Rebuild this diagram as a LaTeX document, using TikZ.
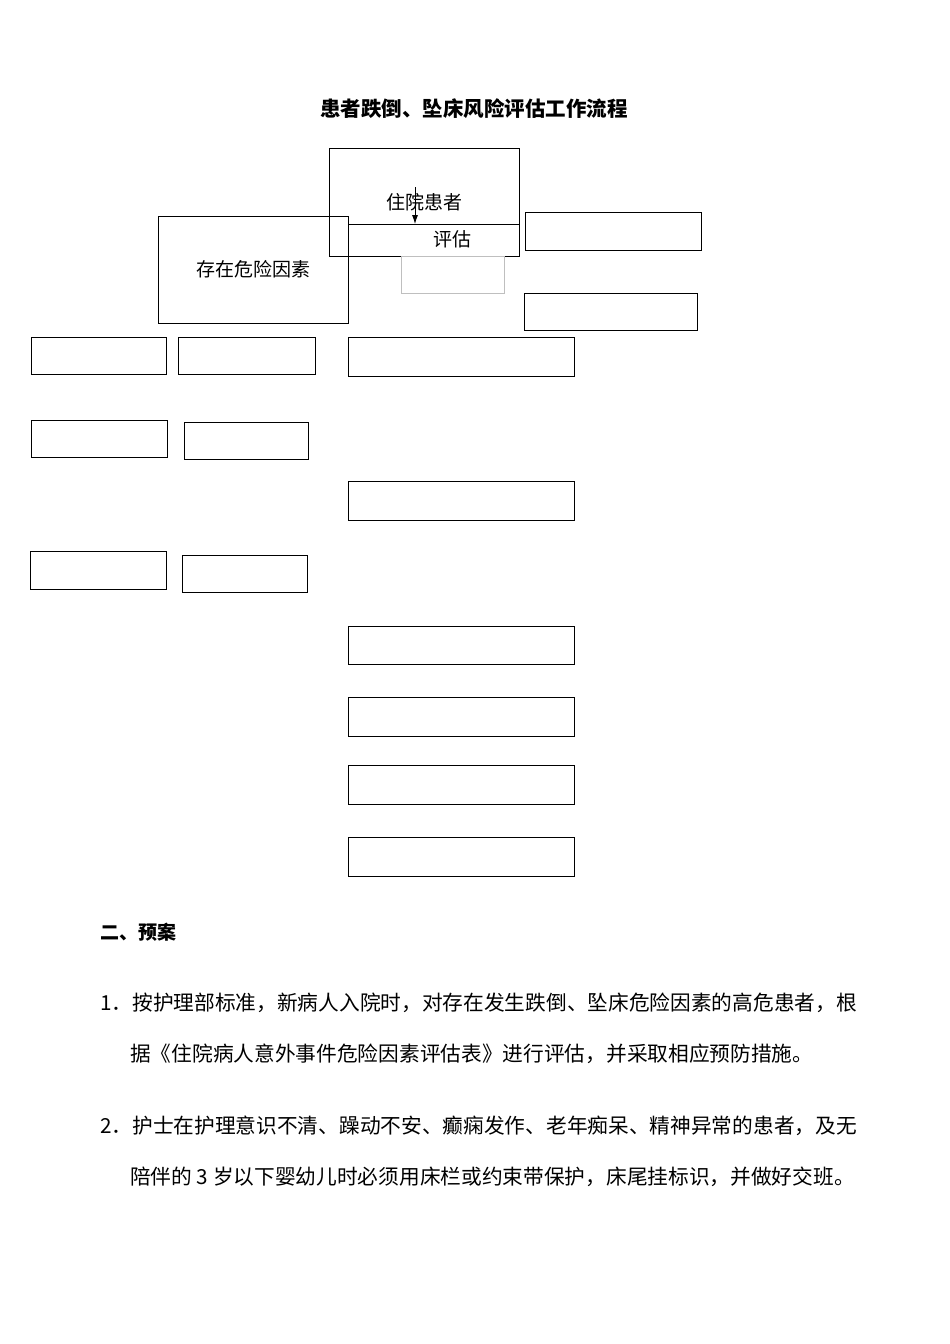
\documentclass[tikz,border=0pt]{standalone}
\usepackage{fontspec}
\usetikzlibrary{arrows.meta}
\newfontfamily\cjk{Noto Sans CJK SC}
\begin{document}
\begin{tikzpicture}[x=1pt,y=-1pt,
  bx/.style={draw,line width=0.9pt},
  txt/.style={font=\cjk\fontsize{20.7}{24}\selectfont,anchor=west,inner sep=0}]
\useasboundingbox[fill=white] (0,0) rectangle (950,1344);
\node[font=\cjk\bfseries\fontsize{20.5}{22}\selectfont] (title) at (474,109) {患者跌倒、坠床风险评估工作流程};
\draw[bx] (329,148) rectangle (519,256);
\node[font=\cjk\fontsize{19}{20}\selectfont] (zy) at (424,202) {住院患者};
\draw[bx] (158,216) rectangle (348,323);
\node[font=\cjk\fontsize{19}{20}\selectfont] (cz) at (253,269) {存在危险因素};
\draw[line width=0.9pt] (348,224) -- (520,224);
\node[font=\cjk\fontsize{19}{20}\selectfont] (pg) at (452,239) {评估};
\draw[gray!50] (401,256) rectangle (504,293);
\coordinate (a1) at (415,187); \coordinate (a2) at (415,224);
\draw[-{Latex[length=9pt,width=6pt]},line width=0.8pt] (a1) -- (a2);
\foreach \a/\b/\c/\d in {525/212/701/250,524/293/697/330,31/337/166/374,178/337/315/374,348/337/574/376,31/420/167/457,184/422/308/459,348/481/574/520,30/551/166/589,182/555/307/592,348/626/574/664,348/697/574/736,348/765/574/804,348/837/574/876}
  \draw[bx] (\a,\b) rectangle (\c,\d);
\node[txt,font=\cjk\bfseries\fontsize{19}{20}\selectfont] (h2) at (100,932) {二、预案};
\node[txt] (p1a) at (100,1003) {1．按护理部标准，新病人入院时，对存在发生跌倒、坠床危险因素的高危患者，根};
\node[txt] (p1b) at (130,1054) {据《住院病人意外事件危险因素评估表》进行评估，并采取相应预防措施。};
\node[txt] (p2a) at (100,1126) {2．护士在护理意识不清、躁动不安、癫痫发作、老年痴呆、精神异常的患者，及无};
\node[txt] (p2b) at (130,1177) {陪伴的 3 岁以下婴幼儿时必须用床栏或约束带保护，床尾挂标识，并做好交班。};
\end{tikzpicture}
\end{document}
